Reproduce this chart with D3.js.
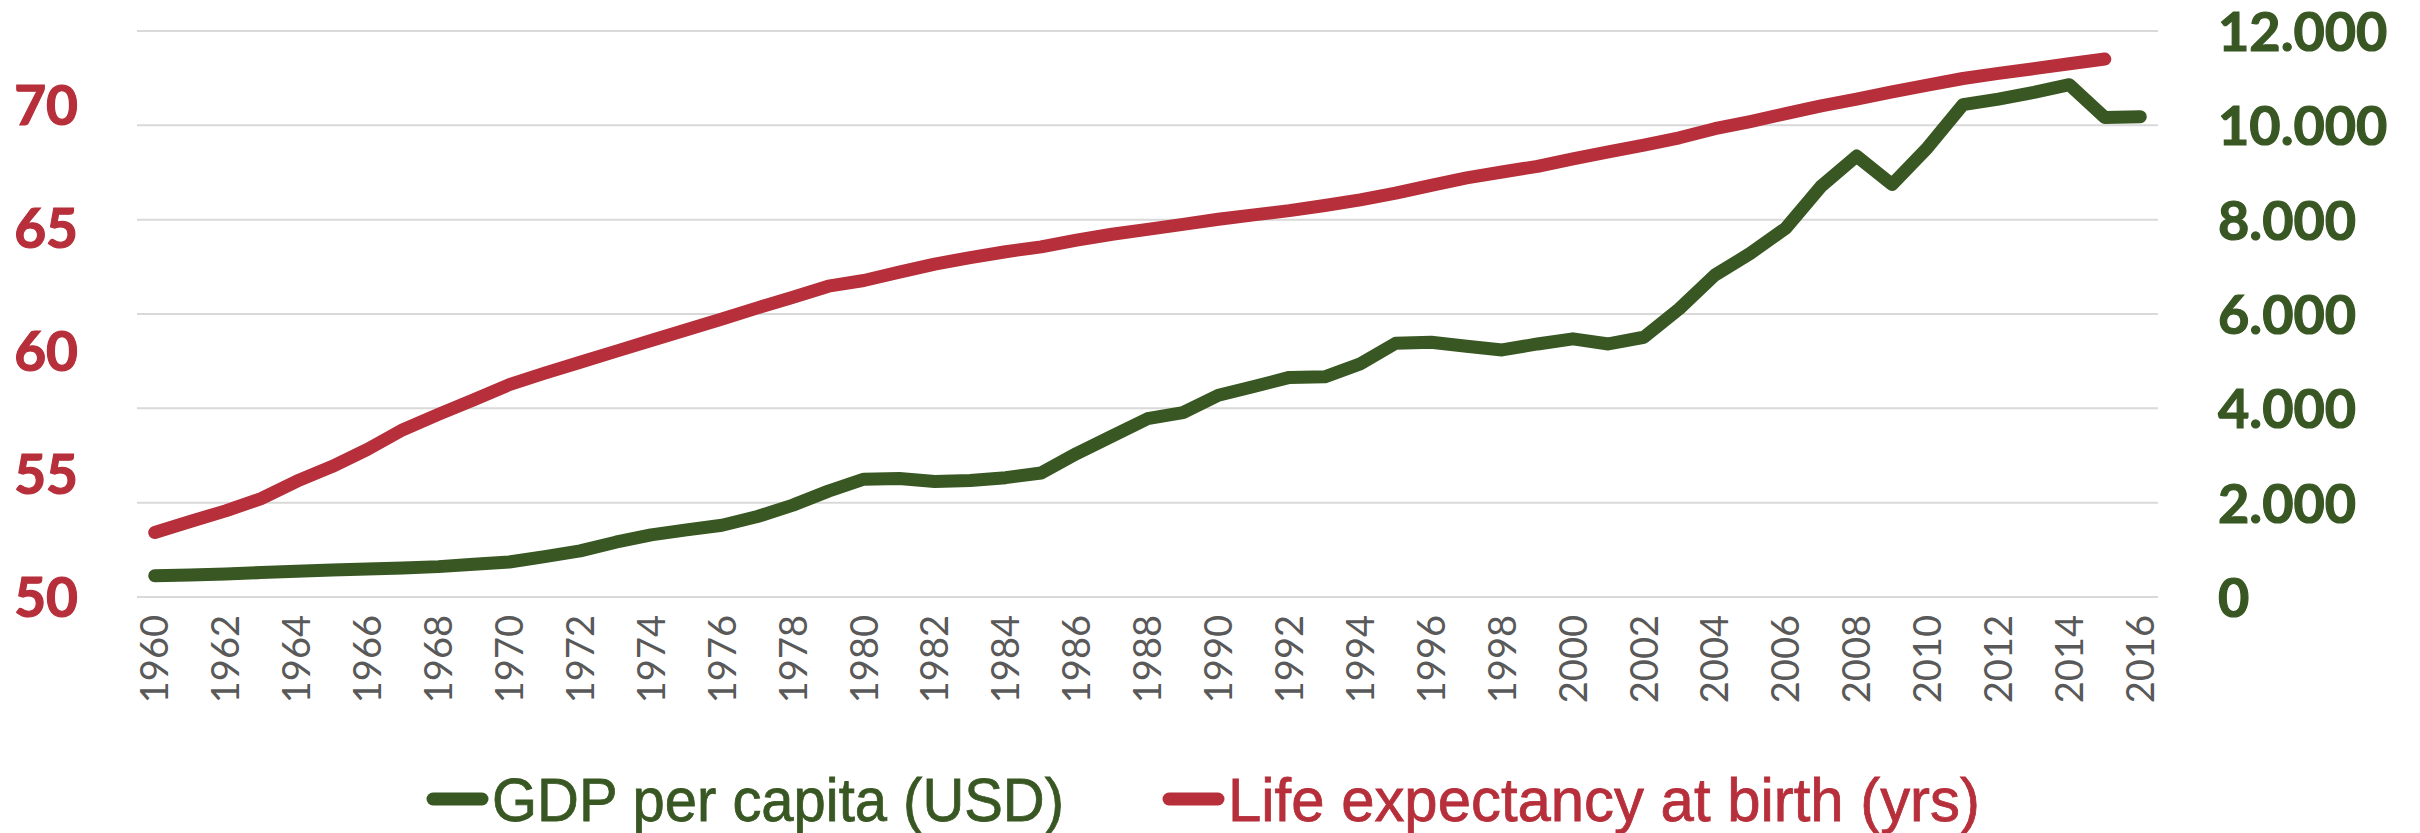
<!DOCTYPE html>
<html>
<head>
<meta charset="utf-8">
<script src="https://cdn.jsdelivr.net/npm/d3@7"></script>
<style>
  html, body { margin: 0; padding: 0; background: #fff; }
  svg { display: block; }
</style>
</head>
<body>
<div id="chart"></div>
<script>
const years = d3.range(1960, 2017);

// GDP per capita (USD), 1960-2016, right axis
const gdpPerCapita = [
  450, 467, 489, 517, 545, 573, 595, 616, 644, 694,
  743, 856, 977, 1161, 1317, 1423, 1522, 1706, 1947, 2244,
  2499, 2513, 2450, 2471, 2530, 2629, 3041, 3411, 3780, 3908,
  4278, 4463, 4656, 4669, 4941, 5380, 5401, 5316, 5238, 5365,
  5473, 5365, 5507, 6112, 6824, 7285, 7818, 8709, 9348, 8745,
  9527, 10438, 10556, 10700, 10862, 10165, 10181
];

// Life expectancy at birth (yrs), 1960-2015, left axis (2016 missing)
const lifeExpectancy = [
  52.62, 53.07, 53.5, 54.0, 54.7, 55.3, 56.0, 56.8, 57.42, 58.02,
  58.63, 59.1, 59.54, 59.98, 60.42, 60.86, 61.3, 61.75, 62.18, 62.63,
  62.86, 63.2, 63.53, 63.79, 64.03, 64.23, 64.5, 64.74, 64.94, 65.14,
  65.35, 65.53, 65.7, 65.91, 66.14, 66.41, 66.73, 67.03, 67.27, 67.5,
  67.8, 68.09, 68.36, 68.66, 69.03, 69.32, 69.64, 69.96, 70.23, 70.53,
  70.8, 71.07, 71.28, 71.47, 71.67, 71.86, null
];

const leftTicks = [50, 55, 60, 65, 70];
const rightTicks = [0, 2000, 4000, 6000, 8000, 10000, 12000];
const yearTicks = years.filter(y => y % 2 === 0);

const seriesNames = ["GDP per capita (USD)", "Life expectancy at birth (yrs)"];

const green = "#385723";
const red = "#B62F3A";

const W = 2420, H = 833;
const margin = { top: 31, right: 262, bottom: 236, left: 137 };

const svg = d3.select("#chart").append("svg")
  .attr("width", W)
  .attr("height", H);

const x = d3.scaleBand()
  .domain(years)
  .range([margin.left, W - margin.right]);

const yRight = d3.scaleLinear()
  .domain([0, 12000])
  .range([H - margin.bottom, margin.top]);

const yLeft = d3.scaleLinear()
  .domain([50, 73])
  .range([H - margin.bottom, margin.top]);

const cx = d => x(d) + x.bandwidth() / 2;

const fmt = d3.formatLocale({ decimal: ",", thousands: ".", grouping: [3], currency: ["", ""] }).format(",");

// gridlines
svg.append("g")
  .selectAll("line")
  .data(rightTicks)
  .join("line")
  .attr("x1", margin.left)
  .attr("x2", W - margin.right)
  .attr("y1", d => yRight(d))
  .attr("y2", d => yRight(d))
  .attr("stroke", "#d9d9d9")
  .attr("stroke-width", 2);

// left axis
const gLeft = svg.append("g")
  .attr("transform", "translate(78,0)")
  .call(d3.axisLeft(yLeft).tickValues(leftTicks).tickSize(0).tickPadding(0));
gLeft.select(".domain").remove();
gLeft.selectAll("text")
  .attr("fill", red)
  .attr("stroke", red)
  .attr("stroke-width", 1.2)
  .attr("dy", "0.36em")
  .style("font", "bold 55px Lato");

// right axis
const gRight = svg.append("g")
  .attr("transform", "translate(2218,0)")
  .call(d3.axisRight(yRight).tickValues(rightTicks).tickFormat(fmt).tickSize(0).tickPadding(0));
gRight.select(".domain").remove();
gRight.selectAll("text")
  .attr("fill", green)
  .attr("stroke", green)
  .attr("stroke-width", 1.2)
  .attr("dy", "0.36em")
  .style("font", "bold 54px Lato");

// bottom axis (rotated year labels)
const gBottom = svg.append("g")
  .attr("transform", `translate(0,${H - margin.bottom})`)
  .call(d3.axisBottom(x).tickValues(yearTicks).tickSize(0));
gBottom.select(".domain").remove();
gBottom.selectAll("text")
  .attr("transform", "rotate(-90)")
  .attr("text-anchor", "end")
  .attr("x", -18)
  .attr("y", 0)
  .attr("dy", "0.36em")
  .attr("fill", "#595959")
  .style("font", "38px Lato");

// lines
const gdpLine = d3.line()
  .x((d, i) => cx(years[i]))
  .y(d => yRight(d));

const lifeLine = d3.line()
  .defined(d => d != null)
  .x((d, i) => cx(years[i]))
  .y(d => yLeft(d));

svg.append("path")
  .datum(gdpPerCapita)
  .attr("fill", "none")
  .attr("stroke", green)
  .attr("stroke-width", 13)
  .attr("stroke-linecap", "round")
  .attr("stroke-linejoin", "round")
  .attr("d", gdpLine);

svg.append("path")
  .datum(lifeExpectancy)
  .attr("fill", "none")
  .attr("stroke", red)
  .attr("stroke-width", 13)
  .attr("stroke-linecap", "round")
  .attr("stroke-linejoin", "round")
  .attr("d", lifeLine);

// legend: text squeezed horizontally to the measured width
const legendItems = [
  { name: seriesNames[0], color: green, x: 427, textWidth: 572 },
  { name: seriesNames[1], color: red, x: 1163, textWidth: 752 }
];

const legend = svg.append("g").attr("transform", "translate(0,799)");

legendItems.forEach(item => {
  legend.append("line")
    .attr("x1", item.x + 6)
    .attr("x2", item.x + 55)
    .attr("y1", 0)
    .attr("y2", 0)
    .attr("stroke", item.color)
    .attr("stroke-width", 13)
    .attr("stroke-linecap", "round");

  const g = legend.append("g");
  const label = g.append("text")
    .attr("fill", item.color)
    .attr("stroke", item.color)
    .attr("stroke-width", 0.8)
    .style("font-family", "'Liberation Sans', sans-serif")
    .style("font-size", "62px")
    .text(item.name);

  const natural = label.node().getComputedTextLength();
  const sx = Math.min(1, item.textWidth / natural);
  g.attr("transform", `translate(${item.x + 65},22) scale(${sx},1)`);
});
</script>
</body>
</html>
